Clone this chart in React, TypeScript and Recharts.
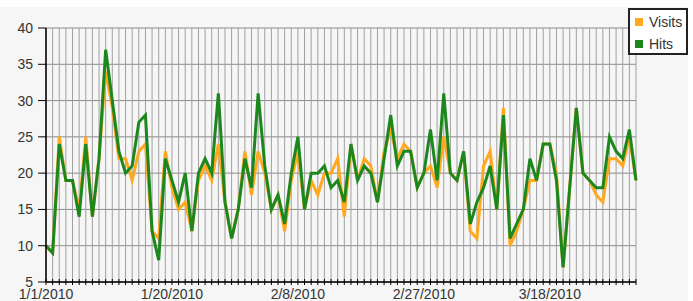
import React from 'react';
import { LineChart, Line, XAxis, YAxis, CartesianGrid, Legend } from 'recharts';

const monthLengths = [31, 28, 31];
const dates: string[] = [];
monthLengths.forEach((n, m) => {
  for (let d = 1; d <= n; d++) dates.push(`${m + 1}/${d}/2010`);
});

const visits = [
  10, 9, 25, 19, 19, 15, 25, 14, 22, 34,
  29, 22, 22, 19, 23, 24, 12, 11, 23, 18,
  15, 16, 12, 19, 21, 19, 24, 16, 11, 15,
  23, 17, 23, 20, 15, 17, 12, 19, 23, 15,
  19, 17, 20, 20, 22, 14, 24, 19, 22, 21,
  16, 23, 26, 22, 24, 23, 18, 20, 21, 18,
  25, 20, 19, 23, 12, 11, 21, 23, 15, 29,
  10, 12, 15, 19, 19, 24, 24, 20, 7, 18,
  29, 20, 19, 17, 16, 22, 22, 21, 25, 19,
];

const hits = [
  10, 9, 24, 19, 19, 14, 24, 14, 22, 37,
  30, 23, 20, 21, 27, 28, 12, 8, 22, 19,
  16, 20, 12, 20, 22, 20, 31, 16, 11, 15,
  22, 18, 31, 21, 15, 17, 13, 20, 25, 15,
  20, 20, 21, 18, 19, 16, 24, 19, 21, 20,
  16, 22, 28, 21, 23, 23, 18, 20, 26, 19,
  31, 20, 19, 23, 13, 16, 18, 21, 15, 28,
  11, 13, 15, 22, 19, 24, 24, 19, 7, 18,
  29, 20, 19, 18, 18, 25, 23, 22, 26, 19,
];

const yTicks = [5, 10, 15, 20, 25, 30, 35, 40];
const labeledDates = ['1/1/2010', '1/20/2010', '2/8/2010', '2/27/2010', '3/18/2010'];

const seriesNames = { visits: 'Visits', hits: 'Hits' };
const colors = { visits: '#FFA820', hits: '#1C871C' };

const data = dates.map((date, i) => ({ i, date, visits: visits[i], hits: hits[i] }));
const FONT = '"Liberation Sans", Arial, sans-serif';

const XTick = (props: any) => {
  const { x, y, payload } = props;
  const label = dates[payload.value];
  const show = labeledDates.includes(label);
  return (
    <g>
      <line x1={x} x2={x} y1={y - 3} y2={y + 3} stroke="#000" strokeWidth={1} />
      {show && (
        <text x={x} y={y + 17} textAnchor="middle" fontSize={14} fill="#333" fontFamily={FONT}>
          {label}
        </text>
      )}
    </g>
  );
};

const LegendBox = () => (
  <div
    style={{
      width: 60,
      height: 47,
      boxSizing: 'border-box',
      border: '2px solid #222',
      background: '#fff',
      fontFamily: FONT,
      fontSize: 14,
      color: '#333',
      paddingTop: 1,
    }}
  >
    {(['visits', 'hits'] as const).map((k) => (
      <div key={k} style={{ display: 'flex', alignItems: 'center', height: 22, marginBottom: 0 }}>
        <span style={{ display: 'inline-block', width: 8, height: 8, background: colors[k], marginLeft: 5, marginRight: 6 }} />
        <span>{seriesNames[k]}</span>
      </div>
    ))}
  </div>
);

export default function App() {
  return (
    <div style={{ position: 'absolute', left: 0, top: 0, width: 693, height: 301 }}>
      <div style={{ position: 'absolute', left: 0, top: 7, width: 688, height: 294, background: '#f6f6f6' }} />
      <div style={{ position: 'absolute', left: 0, top: 0 }}>
        <LineChart width={693} height={301} data={data} margin={{ top: 28, right: 57, bottom: 0, left: 6 }}>
          <CartesianGrid horizontal={true} vertical={false} stroke="#8a8a8a" strokeWidth={1} />
          <CartesianGrid horizontal={false} vertical={true} stroke="#a0a0a0" strokeWidth={1} />
          <XAxis
            type="number"
            dataKey="i"
            domain={[0, dates.length - 1]}
            ticks={dates.map((_, i) => i)}
            interval={0}
            tickSize={0}
            tickMargin={0}
            tickLine={false}
            tick={<XTick />}
            axisLine={{ stroke: '#000', strokeWidth: 1.5 }}
            height={19}
          />
          <YAxis
            type="number"
            domain={[5, 40]}
            ticks={yTicks}
            interval={0}
            width={40}
            tickSize={8}
            tickMargin={5}
            axisLine={{ stroke: '#000', strokeWidth: 1.5 }}
            tickLine={{ stroke: '#000' }}
            tick={{ fontSize: 14, fill: '#333', fontFamily: FONT }}
          />
          <Legend
            layout="horizontal"
            verticalAlign="middle"
            align="center"
            content={() => <LegendBox />}
            wrapperStyle={{ position: 'absolute', left: 628, top: 8, width: 60, height: 47 }}
          />
          <Line type="linear" dataKey="visits" name="Visits" stroke={colors.visits} strokeWidth={3} dot={false} isAnimationActive={false} />
          <Line type="linear" dataKey="hits" name="Hits" stroke={colors.hits} strokeWidth={3} dot={false} isAnimationActive={false} />
        </LineChart>
      </div>
    </div>
  );
}
